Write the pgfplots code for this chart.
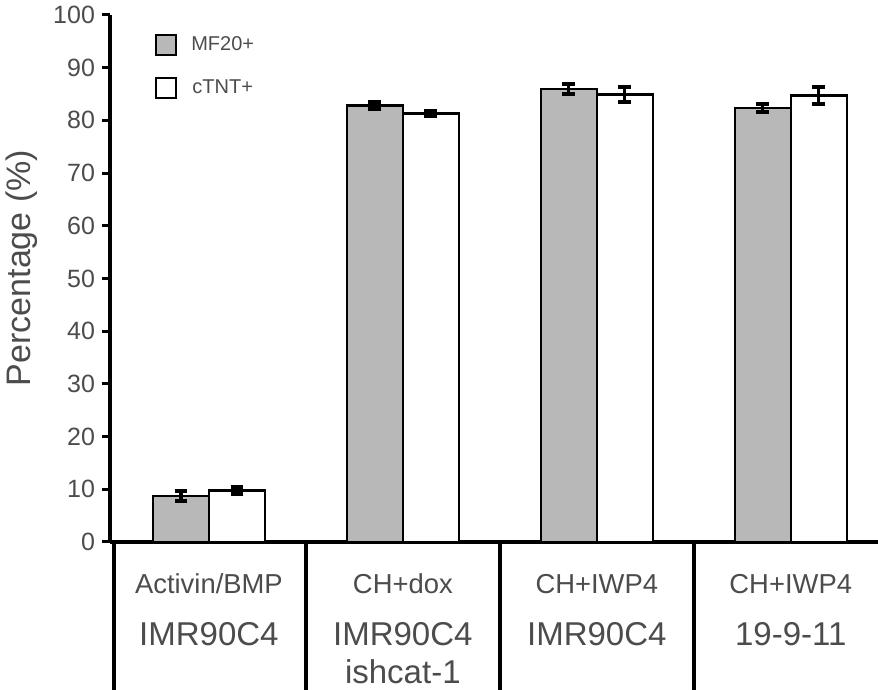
\documentclass[border=0pt]{standalone}
\usepackage{pgfplots}
\pgfplotsset{compat=1.18}
\usepackage{fontspec}
\setmainfont{Liberation Sans}
\definecolor{txt}{gray}{0.3}
\definecolor{barg}{gray}{0.72}
\begin{document}
\begin{tikzpicture}
\begin{axis}[
 scale only axis, width=384pt, height=263.5pt,
 xmin=-0.51, xmax=3.45, ymin=0, ymax=100,
 axis lines*=left,
 axis line style={line width=2pt, black},
 ytick={0,10,...,100}, tick align=outside, major tick length=4pt,
 ytick style={line width=1.5pt, black},
 xtick=\empty,
 yticklabel style={font=\fontsize{12.5}{13}\selectfont, text=txt},
 /pgf/number format/assume math mode=true,
 ylabel={Percentage (\%)},
 every axis y label/.style={at={(axis description cs:0,0.52)}, xshift=-44pt, rotate=90, anchor=center, font=\fontsize{17}{17}\selectfont, text=txt},
 ybar=0pt, bar width=28pt,
 clip=false,
 legend style={at={(rel axis cs:0.05,0.975)}, anchor=north west, draw=none, fill=none,
   font=\fontsize{10}{11}\selectfont, text=txt, row sep=9pt},
 legend image code/.code={\draw[#1, line width=1.3pt] (0pt,-5pt) rectangle (10pt,5pt);\path (15pt,0pt);},
 error bars/error bar style={line width=1.6pt, black},
 error bars/error mark options={rotate=90, mark size=3.2pt, line width=2pt, black},
]
\addplot[draw=black, line width=1.2pt, fill=barg,
  error bars/.cd, y dir=both, y explicit]
  coordinates {(0,8.7) +- (0,1.0) (1,82.8) +- (0,0.6) (2,86.0) +- (0,1.0) (3,82.4) +- (0,0.8)};
\addlegendentry{MF20+}
\addplot[draw=black, line width=1.2pt, fill=white,
  error bars/.cd, y dir=both, y explicit]
  coordinates {(0,9.8) +- (0,0.7) (1,81.3) +- (0,0.4) (2,84.9) +- (0,1.4) (3,84.7) +- (0,1.6)};
\addlegendentry{cTNT+}
\draw[line width=2pt, black] (axis cs:-0.49,0) -- ([yshift=-74pt]axis cs:-0.49,0);
\draw[line width=2pt, black] (axis cs:0.5,0) -- ([yshift=-74pt]axis cs:0.5,0);
\draw[line width=2pt, black] (axis cs:1.5,0) -- ([yshift=-74pt]axis cs:1.5,0);
\draw[line width=2pt, black] (axis cs:2.5,0) -- ([yshift=-74pt]axis cs:2.5,0);
\node[font=\fontsize{13.7}{14}\selectfont, text=txt] at ([yshift=-21pt]axis cs:0,0) {Activin/BMP};
\node[font=\fontsize{13.7}{14}\selectfont, text=txt] at ([yshift=-21pt]axis cs:1,0) {CH+dox};
\node[font=\fontsize{13.7}{14}\selectfont, text=txt] at ([yshift=-21pt]axis cs:2,0) {CH+IWP4};
\node[font=\fontsize{13.7}{14}\selectfont, text=txt] at ([yshift=-21pt]axis cs:3,0) {CH+IWP4};
\node[font=\fontsize{16.5}{17}\selectfont, text=txt] at ([yshift=-46pt]axis cs:0,0) {IMR90C4};
\node[font=\fontsize{16.5}{17}\selectfont, text=txt] at ([yshift=-46pt]axis cs:1,0) {IMR90C4};
\node[font=\fontsize{16.5}{17}\selectfont, text=txt] at ([yshift=-46pt]axis cs:2,0) {IMR90C4};
\node[font=\fontsize{16.5}{17}\selectfont, text=txt] at ([yshift=-46pt]axis cs:3,0) {19-9-11};
\node[font=\fontsize{16.5}{17}\selectfont, text=txt] at ([yshift=-65pt]axis cs:1,0) {ishcat-1};
\end{axis}
\pgfresetboundingbox
\path[use as bounding box] ([xshift=-55pt,yshift=-74pt]current axis.south west) rectangle ([yshift=7.5pt]current axis.north east);
\end{tikzpicture}
\end{document}
